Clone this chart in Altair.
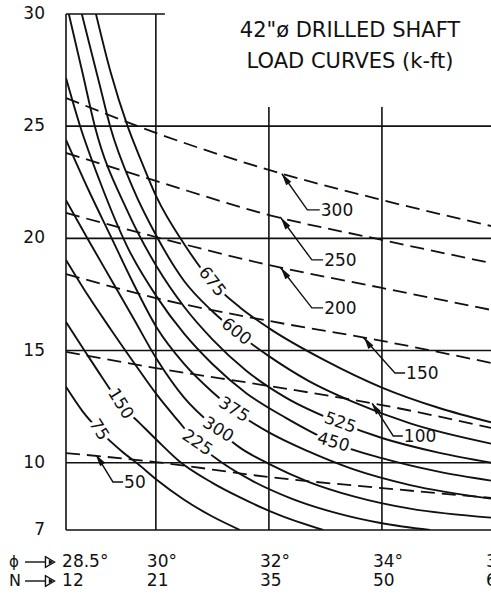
import altair as alt
import pandas as pd

FONT = "DejaVu Sans"
INK = "#111111"

# Plot frame: friction angle phi (deg) across, embedment length (ft) up
PHI_MIN, PHI_MAX = 28.41, 35.93
LEN_MIN, LEN_MAX = 7, 30

# ---- solid load curves (k-ft) ----
phi_75 = [28.41, 28.7, 28.99, 29.4, 29.68, 30.02, 30.5, 31.0, 31.49]
len_75 = [13.38, 12.3, 11.46, 10.5, 9.95, 9.23, 8.35, 7.6, 7.0]

phi_150 = [28.41, 28.75, 29.05, 29.37, 29.7, 30.02, 30.42, 31.0, 31.49, 32.2, 32.96]
len_150 = [16.27, 14.95, 13.8, 12.62, 11.8, 11.0, 10.05, 9.1, 8.45, 7.65, 7.0]

phi_225 = [28.41, 28.8, 29.2, 29.6, 30.02, 30.4, 30.73, 31.2, 31.7, 32.4, 33.2, 34.0, 34.85]
len_225 = [19.04, 17.45, 15.95, 14.5, 13.02, 11.85, 10.88, 9.95, 9.2, 8.4, 7.75, 7.3, 7.0]

phi_300 = [28.41, 28.8, 29.2, 29.6, 30.02, 30.5, 31.1, 31.5, 32.0, 32.7, 33.5, 34.5, 35.93]
len_300 = [21.7, 19.95, 18.2, 16.45, 14.6, 12.9, 11.46, 10.65, 9.95, 9.15, 8.5, 7.95, 7.55]

phi_375 = [28.41, 28.8, 29.2, 29.6, 30.02, 30.5, 31.0, 31.38, 32.0, 32.7, 33.5, 34.5, 35.93]
len_375 = [24.39, 22.2, 20.1, 18.0, 16.0, 14.4, 13.15, 12.35, 11.35, 10.5, 9.7, 9.0, 8.4]

phi_450 = [28.41, 28.66, 29.0, 29.5, 30.02, 30.5, 31.0, 31.6, 32.3, 33.14, 34.0, 35.0, 35.93]
len_450 = [27.15, 25.0, 22.6, 19.6, 17.38, 15.75, 14.4, 13.1, 12.0, 10.9, 10.2, 9.6, 9.2]

phi_525 = [28.46, 28.7, 28.92, 29.5, 30.02, 30.5, 31.0, 31.6, 32.3, 33.26, 34.0, 35.0, 35.93]
len_525 = [30.0, 27.4, 25.0, 21.2, 18.72, 16.95, 15.5, 14.1, 12.9, 11.77, 11.1, 10.45, 10.0]

phi_600 = [28.69, 29.0, 29.19, 29.6, 30.02, 30.5, 31.0, 31.42, 32.0, 32.7, 33.5, 34.5, 35.93]
len_600 = [30.0, 26.9, 25.0, 22.2, 20.06, 18.1, 16.75, 15.83, 14.75, 13.65, 12.7, 11.75, 10.85]

phi_675 = [28.94, 29.2, 29.5, 29.75, 30.02, 30.5, 30.99, 31.5, 32.0, 33.0, 34.0, 35.0, 35.93]
len_675 = [30.0, 27.4, 25.0, 23.4, 21.8, 19.75, 18.06, 16.9, 16.0, 14.55, 13.35, 12.45, 11.8]

# label text, phi, length, rotation
solid_labels = ["75", "150", "225", "300", "375", "450", "525", "600", "675"]
solid_label_phi = [28.99, 29.37, 30.73, 31.1, 31.38, 33.14, 33.26, 31.42, 30.99]
solid_label_len = [11.46, 12.62, 10.88, 11.46, 12.35, 10.9, 11.77, 15.83, 18.06]
solid_label_rot = [58, 58, 34, 32, 32, 16, 20, 38, 52]

# ---- dashed curves ----
dash_phi = [28.41, 30.0, 32.0, 34.0, 35.93]
dash_50 = [10.43, 10.03, 9.36, 8.87, 8.43]
dash_100 = [14.94, 14.22, 13.42, 12.57, 11.55]
dash_150 = [18.41, 17.34, 16.32, 15.43, 14.45]
dash_200 = [21.13, 20.06, 18.81, 17.79, 16.81]
dash_250 = [23.81, 22.56, 21.04, 19.93, 18.90]
dash_300 = [26.26, 24.70, 23.05, 21.71, 20.55]

# leader for each dashed label: arrow tip on the curve, elbow, end at text
dash_labels = ["50", "100", "150", "200", "250", "300"]
tip_phi = [28.96, 33.83, 33.67, 32.2, 32.2, 32.23]
tip_len = [10.29, 12.64, 15.58, 18.71, 20.95, 22.88]
elbow_phi = [29.24, 34.2, 34.23, 32.76, 32.76, 32.68]
elbow_len = [9.14, 11.19, 14.0, 16.9, 19.04, 21.27]
end_phi = [29.42, 34.37, 34.41, 32.96, 32.96, 32.9]

# ---- axis annotations ----
len_ticks = [7, 10, 15, 20, 25, 30]
phi_ticks = [28.5, 30, 32, 34, 36]
phi_tick_text = ["28.5°", "30°", "32°", "34°", "36°"]
blow_count_text = ["12", "21", "35", "50", "65"]

title_lines = ['42"ø DRILLED SHAFT', "LOAD CURVES (k-ft)"]

# ---- frame lines ----
h_len = [30, 25, 20, 15, 10, 7]
h_from = [PHI_MIN] * 6
h_to = [30.16, PHI_MAX, PHI_MAX, PHI_MAX, PHI_MAX, PHI_MAX]
v_phi = [PHI_MIN, 30, 32, 34]
v_from = [7, 7, 7, 7]
v_to = [30, 30, 25.86, 25.86]

xs = alt.Scale(domain=[PHI_MIN, PHI_MAX], nice=False, zero=False)
ys = alt.Scale(domain=[LEN_MIN, LEN_MAX], nice=False, zero=False)


def X(f):
    return alt.X(f, type="quantitative", scale=xs, axis=None)


def Y(f):
    return alt.Y(f, type="quantitative", scale=ys, axis=None)


solid_sets = [
    ("75", phi_75, len_75), ("150", phi_150, len_150), ("225", phi_225, len_225),
    ("300", phi_300, len_300), ("375", phi_375, len_375), ("450", phi_450, len_450),
    ("525", phi_525, len_525), ("600", phi_600, len_600), ("675", phi_675, len_675),
]
rows = []
for name, ph, ln in solid_sets:
    for i, (p, l) in enumerate(zip(ph, ln)):
        rows.append({"curve": name, "phi": p, "len": l, "i": i})
solid_df = pd.DataFrame(rows)

dash_sets = [("50", dash_50), ("100", dash_100), ("150", dash_150),
             ("200", dash_200), ("250", dash_250), ("300", dash_300)]
rows = []
for name, ln in dash_sets:
    for i, (p, l) in enumerate(zip(dash_phi, ln)):
        rows.append({"curve": name, "phi": p, "len": l, "i": i})
dash_df = pd.DataFrame(rows)

rows = []
for k, name in enumerate(dash_labels):
    pts = [(tip_phi[k], tip_len[k]), (elbow_phi[k], elbow_len[k]), (end_phi[k], elbow_len[k])]
    for i, (p, l) in enumerate(pts):
        rows.append({"curve": name, "phi": p, "len": l, "i": i})
leader_df = pd.DataFrame(rows)

# arrowheads sit just behind each tip, along the leader
t = 0.13
head_df = pd.DataFrame({
    "phi": [a + (b - a) * t for a, b in zip(tip_phi, elbow_phi)],
    "len": [a + (b - a) * t for a, b in zip(tip_len, elbow_len)],
})
dash_text_df = pd.DataFrame({"label": dash_labels, "phi": end_phi, "len": elbow_len})

solid_lab_df = pd.DataFrame({"label": solid_labels, "phi": solid_label_phi,
                             "len": solid_label_len, "rot": solid_label_rot})

hgrid = pd.DataFrame({"len": h_len, "p1": h_from, "p2": h_to})
vgrid = pd.DataFrame({"phi": v_phi, "l1": v_from, "l2": v_to})

ytick_df = pd.DataFrame({"len": len_ticks, "label": [str(v) for v in len_ticks]})
xtick_df = pd.DataFrame({"phi": phi_ticks, "deg": phi_tick_text, "n": blow_count_text})

h_rules = alt.Chart(hgrid).mark_rule(color=INK, strokeWidth=1.6).encode(
    x=X("p1"), x2="p2", y=Y("len"))
v_rules = alt.Chart(vgrid).mark_rule(color=INK, strokeWidth=1.6).encode(
    x=X("phi"), y=Y("l1"), y2="l2")

solid_lines = alt.Chart(solid_df).mark_line(
    color=INK, strokeWidth=1.9, interpolate="monotone", clip=True).encode(
    x=X("phi"), y=Y("len"), detail="curve:N", order="i:Q")

dash_lines = alt.Chart(dash_df).mark_line(
    color=INK, strokeWidth=1.8, strokeDash=[14, 7], interpolate="monotone", clip=True).encode(
    x=X("phi"), y=Y("len"), detail="curve:N", order="i:Q")

leaders = alt.Chart(leader_df).mark_line(color=INK, strokeWidth=1.4).encode(
    x=X("phi"), y=Y("len"), detail="curve:N", order="i:Q")

heads = alt.Chart(head_df).mark_point(
    shape="M0,-1L0.5,1L-0.5,1Z", filled=True, color=INK, size=150, angle=325, opacity=1).encode(
    x=X("phi"), y=Y("len"))

halo = alt.Chart(solid_lab_df).mark_text(
    font=FONT, fontSize=17, color="white", stroke="white", strokeWidth=7,
    align="center", baseline="middle").encode(
    x=X("phi"), y=Y("len"), text="label:N", angle=alt.Angle("rot:Q", scale=None))
solid_text = alt.Chart(solid_lab_df).mark_text(
    font=FONT, fontSize=17, color=INK, align="center", baseline="middle").encode(
    x=X("phi"), y=Y("len"), text="label:N", angle=alt.Angle("rot:Q", scale=None))

dash_text = alt.Chart(dash_text_df).mark_text(
    font=FONT, fontSize=17, color=INK, align="left", baseline="middle", dx=1, dy=1).encode(
    x=X("phi"), y=Y("len"), text="label:N")

ytext = alt.Chart(ytick_df).mark_text(
    font=FONT, fontSize=17, color=INK, align="right", baseline="middle").encode(
    x=alt.value(-21), y=Y("len"), text="label:N")

xrow1 = alt.Chart(xtick_df).mark_text(
    font=FONT, fontSize=17, color=INK, align="left", baseline="middle", dx=-9).encode(
    x=X("phi"), y=alt.value(548), text="deg:N")
xrow2 = alt.Chart(xtick_df).mark_text(
    font=FONT, fontSize=17, color=INK, align="left", baseline="middle", dx=-9).encode(
    x=X("phi"), y=alt.value(567), text="n:N")

prefix_df = pd.DataFrame({"sym": ["ϕ", "N"]})
pre1 = alt.Chart(prefix_df.iloc[[0]]).mark_text(
    font=FONT, fontSize=15, color=INK, align="left", baseline="middle").encode(
    x=alt.value(-57), y=alt.value(548), text="sym:N")
pre2 = alt.Chart(prefix_df.iloc[[1]]).mark_text(
    font=FONT, fontSize=16, color=INK, align="left", baseline="middle").encode(
    x=alt.value(-57), y=alt.value(567), text="sym:N")

shafts = []
for row in (548, 567):
    shafts.append(alt.Chart(prefix_df.iloc[[0]]).mark_rule(color=INK, strokeWidth=1.4).encode(
        x=alt.value(-41), x2=alt.value(-20), y=alt.value(row)))
    shafts.append(alt.Chart(prefix_df.iloc[[0]]).mark_point(
        shape="triangle-right", filled=False, color=INK, strokeWidth=1.4, size=110, opacity=1).encode(
        x=alt.value(-16), y=alt.value(row)))
    shafts.append(alt.Chart(prefix_df.iloc[[0]]).mark_point(
        shape="triangle-right", filled=True, color=INK, size=25, opacity=1).encode(
        x=alt.value(-15), y=alt.value(row)))

title_df = pd.DataFrame({"line": title_lines})
title1 = alt.Chart(title_df.iloc[[0]]).mark_text(
    font=FONT, fontSize=21, color=INK, align="center", baseline="alphabetic").encode(
    x=alt.value(284), y=alt.value(23), text="line:N")
title2 = alt.Chart(title_df.iloc[[1]]).mark_text(
    font=FONT, fontSize=21, color=INK, align="center", baseline="alphabetic").encode(
    x=alt.value(284), y=alt.value(54), text="line:N")

chart = alt.layer(
    h_rules, v_rules, dash_lines, solid_lines, leaders, heads,
    halo, solid_text, dash_text, ytext, xrow1, xrow2, pre1, pre2, *shafts,
    title1, title2,
).properties(
    width=425, height=516,
    autosize=alt.AutoSizeParams(type="none"),
    padding={"left": 66, "top": 14, "right": 0, "bottom": 68},
    background="white",
).configure_view(strokeWidth=0)

chart.save("out.html", embed_options={"renderer": "svg", "actions": False})
